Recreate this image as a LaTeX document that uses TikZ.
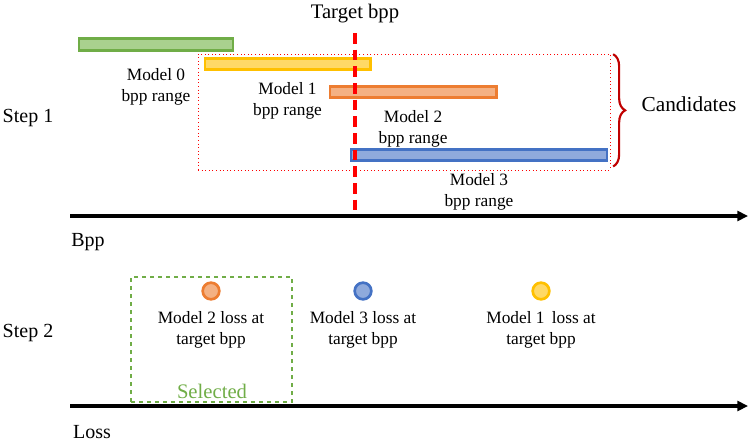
\documentclass[tikz,border=0pt]{standalone}
\usepackage{fontspec}
\setmainfont{Liberation Serif}
\usepackage{xcolor}
\usetikzlibrary{arrows.meta,positioning,decorations.pathreplacing}

\definecolor{greenE}{HTML}{70AD47}
\definecolor{greenF}{HTML}{A9D18E}
\definecolor{yellowE}{HTML}{FFC000}
\definecolor{yellowF}{HTML}{FFD966}
\definecolor{orangeE}{HTML}{ED7D31}
\definecolor{orangeF}{HTML}{F4B183}
\definecolor{blueE}{HTML}{4472C4}
\definecolor{blueF}{HTML}{8FAADC}
\definecolor{braceR}{HTML}{C00000}

\begin{document}
\begin{tikzpicture}[
  x=0.75pt, y=-0.75pt,
  font=\fontsize{13}{15.75}\selectfont,
  bar/.style={draw, line width=2.2pt, minimum height=8.8pt, inner sep=0pt, anchor=west},
  lbl/.style={align=center, inner sep=1pt},
  big/.style={inner sep=1pt, font=\fontsize{15}{18}\selectfont},
  dot/.style={circle, draw, line width=2pt, minimum size=12.5pt, inner sep=0pt},
  axis/.style={line width=2.6pt, -{Triangle[length=8pt,width=7.5pt]}},
  target/.style={red, line width=2.6pt, dash pattern=on 8pt off 4.5pt},
  candbox/.style={draw=red, dotted, line width=0.7pt, minimum width=309pt, minimum height=87pt, inner sep=0pt},
  selbox/.style={draw=greenE, dashed, line width=0.9pt, minimum width=120.75pt, minimum height=93.75pt, inner sep=0pt}
]
\useasboundingbox (0,0) rectangle (748,443);

% step 1: bpp ranges
\node[candbox] (cand) at (404,112) {};
\node[bar, draw=greenE, fill=greenF, minimum width=115.5pt] (m0) at (77.5,44.5) {};
\node[bar, draw=yellowE, fill=yellowF, minimum width=123.8pt] (m1) at (203.5,64) {};
\node[bar, draw=orangeE, fill=orangeF, minimum width=124.6pt] (m2) at (328.5,92) {};
\node[bar, draw=blueE, fill=blueF, minimum width=192pt] (m3) at (349.5,155) {};
\node[lbl, below=11pt of m0] (m0l) {Model 0\\ bpp range};
\node[lbl, below=7pt of m1] (m1l) {Model 1\\ bpp range};
\node[lbl, below=7pt of m2] (m2l) {Model 2\\ bpp range};
\node[lbl, below=7pt of m3] (m3l) {Model 3\\ bpp range};

\draw[braceR, line width=1.6pt, decorate, decoration={brace, amplitude=9pt}]
  ([xshift=2pt,yshift=-0.5pt]cand.north east) -- ([xshift=2pt,yshift=3pt]cand.south east);
\node[inner sep=1pt, font=\fontsize{16}{19}\selectfont] (candl) at (689,104) {Candidates};

\node[inner sep=1pt, font=\fontsize{15.5}{18}\selectfont] (tgt) at (355,14) {Target bpp};

\coordinate (b0) at (70,216);
\coordinate (b1) at (748,216);
\draw[axis] (b0) -- (b1);
\draw[target] ([yshift=-6pt]tgt.south) -- (tgt.south |- b0);

\node[big] (s1) at (28,118) {Step 1};
\node[big] (bpp) at (88,242) {Bpp};

% step 2: losses at target bpp
\node[selbox] (sel) at (211.5,339.5) {};
\node[dot, draw=orangeE, fill=orangeF] (d2) at (211,291) {};
\node[dot, draw=blueE, fill=blueF] (d3) at (363,291) {};
\node[dot, draw=yellowE, fill=yellowF] (d1) at (541,291) {};
\node[lbl, below=7pt of d2] (d2l) {Model 2 loss at\\ target bpp};
\node[lbl, below=7pt of d3] (d3l) {Model 3 loss at\\ target bpp};
\node[lbl, below=7pt of d1] (d1l) {Model 1\, loss at\\ target bpp};
\node[inner sep=1pt, text=greenE, font=\fontsize{15.5}{18}\selectfont] (sell) at (212,391) {Selected};

\coordinate (l0) at (70,406);
\coordinate (l1) at (748,406);
\draw[axis] (l0) -- (l1);

\node[big] (s2) at (28,333) {Step 2};
\node[big] (loss) at (92,432) {Loss};
\end{tikzpicture}
\end{document}
